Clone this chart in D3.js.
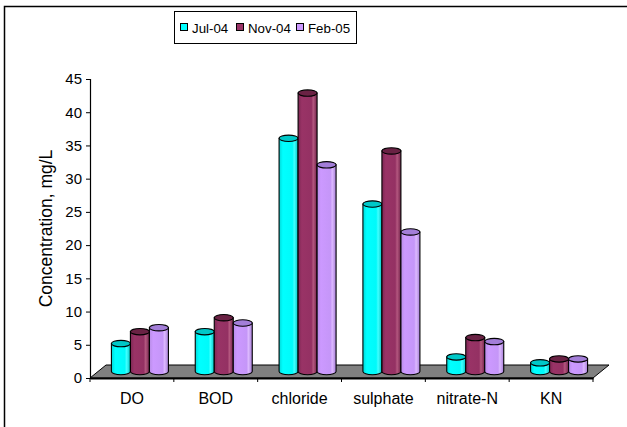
<!DOCTYPE html>
<html>
<head>
<meta charset="utf-8">
<script src="https://cdn.jsdelivr.net/npm/d3@7"></script>
<style>
  html, body { margin: 0; padding: 0; background: #fff; }
  svg { display: block; font-family: Arial, "Liberation Sans", sans-serif; }
</style>
</head>
<body>
<svg id="chart" width="627" height="427"></svg>
<script>
// Water quality parameters (mg/L) over three sampling campaigns
const categories = ["DO", "BOD", "chloride", "sulphate", "nitrate-N", "KN"];
const seriesNames = ["Jul-04", "Nov-04", "Feb-05"];
const jul04 = [4.2, 6.0, 35.1, 25.2, 2.2, 1.3];
const nov04 = [6.0, 8.1, 41.9, 33.2, 5.1, 1.9];
const feb05 = [6.6, 7.3, 31.1, 21.0, 4.5, 1.9];
const yTicks = [0, 5, 10, 15, 20, 25, 30, 35, 40, 45];

const seriesValues = [jul04, nov04, feb05];
const palette = [
  { id: "g0", stops: ["#00d8d8", "#00ffff", "#00fafa", "#40ffff", "#00c4c4"], top: "#00c8c8" },
  { id: "g1", stops: ["#7d2753", "#993366", "#943163", "#b4577f", "#72224a"], top: "#6a2244" },
  { id: "g2", stops: ["#b98de8", "#cc99ff", "#c596f8", "#dcb8ff", "#a67ed6"], top: "#a37ed8" }
];
const FONT = "Arial, 'Liberation Sans', sans-serif";

const svg = d3.select("#chart");

// gradients giving the cylinders their rounded look
const defs = svg.append("defs");
palette.forEach(p => {
  const g = defs.append("linearGradient").attr("id", p.id)
    .attr("x1", "0%").attr("x2", "100%").attr("y1", "0%").attr("y2", "0%");
  [0, 0.2, 0.7, 0.8, 1].forEach((o, i) =>
    g.append("stop").attr("offset", o).attr("stop-color", p.stops[i]));
});

// outer frame
svg.append("rect").attr("x", 4.5).attr("y", 6.5).attr("width", 660).attr("height", 460)
  .attr("fill", "none").attr("stroke", "#000").attr("stroke-width", 1.5);

const plotLeft = 90, plotRight = 593, baseY = 378, topY = 79;
const depthX = 16, depthY = -13;

const y = d3.scaleLinear().domain([0, 45]).range([baseY, topY]);
const x = d3.scaleBand().domain(categories).range([plotLeft, plotRight]);
const groupWidth = x.bandwidth() * 0.68;
const xs = d3.scaleBand().domain(seriesNames).range([0, groupWidth]);

// floor
const floorPts = [
  [plotLeft, baseY], [plotRight, baseY],
  [plotRight + depthX, baseY + depthY], [plotLeft + depthX, baseY + depthY]
];
svg.append("path").attr("d", d3.line()(floorPts) + "Z")
  .attr("fill", "#808080").attr("stroke", "#000").attr("stroke-width", 1);

// y axis
const yAxis = d3.axisLeft(y).tickValues(yTicks).tickSize(4).tickPadding(4);
const gy = svg.append("g").attr("transform", `translate(${plotLeft},0)`).call(yAxis);
gy.select(".domain").attr("stroke", "#000").attr("stroke-width", 1.2);
gy.selectAll("text").attr("font-size", 15).attr("fill", "#000").attr("font-family", FONT);

// x axis with ticks at category boundaries
const xAxis = d3.axisBottom(x).tickSize(0).tickPadding(15);
const gx = svg.append("g").attr("transform", `translate(0,${baseY})`).call(xAxis);
gx.select(".domain").attr("stroke", "#000").attr("stroke-width", 2);
gx.selectAll("text").attr("font-size", 16).attr("fill", "#000").attr("font-family", FONT);
gx.selectAll(".boundary").data(categories.concat([null])).enter().append("line")
  .attr("class", "boundary")
  .attr("x1", (d, i) => plotLeft + i * x.step()).attr("x2", (d, i) => plotLeft + i * x.step())
  .attr("y1", 0).attr("y2", 4).attr("stroke", "#000");

// cylinders, standing mid-depth on the floor
const midX = depthX / 2, midY = depthY / 2;
const ry = 3.2;
const barData = [];
categories.forEach((c, ci) => {
  seriesNames.forEach((s, si) => {
    barData.push({ cat: c, series: s, si, value: seriesValues[si][ci] });
  });
});

const bars = svg.append("g").selectAll("g.bar").data(barData).enter().append("g").attr("class", "bar");
bars.each(function (d) {
  const g = d3.select(this);
  const left = x(d.cat) + (x.bandwidth() - groupWidth) / 2 + xs(d.series) + midX;
  const w = xs.bandwidth();
  const rx = w / 2;
  const bottom = y(0) + midY;
  const top = y(d.value) + midY;
  const body = `M${left},${top} L${left},${bottom} A${rx},${ry} 0 0 0 ${left + w},${bottom} L${left + w},${top} Z`;
  g.append("path").attr("d", body)
    .attr("fill", `url(#${palette[d.si].id})`).attr("stroke", "#000").attr("stroke-width", 1.1);
  g.append("ellipse").attr("cx", left + rx).attr("cy", top).attr("rx", rx).attr("ry", ry)
    .attr("fill", palette[d.si].top).attr("stroke", "#000").attr("stroke-width", 1.1);
});

// y axis title
svg.append("text").attr("transform", "translate(52,228.5) rotate(-90)")
  .attr("text-anchor", "middle").attr("font-size", 17.5).attr("fill", "#000")
  .attr("font-family", FONT).text("Concentration, mg/L");

// legend
const legend = svg.append("g");
legend.append("rect").attr("x", 174.5).attr("y", 11.5).attr("width", 182).attr("height", 32)
  .attr("fill", "#fff").attr("stroke", "#000").attr("stroke-width", 1);
const legendX = [180, 236, 296];
seriesNames.forEach((s, i) => {
  legend.append("rect").attr("x", legendX[i] + 0.5).attr("y", 23.5).attr("width", 7).attr("height", 7)
    .attr("fill", palette[i].stops[1]).attr("stroke", "#000").attr("stroke-width", 1);
  legend.append("text").attr("x", legendX[i] + 12).attr("y", 32.5)
    .attr("font-size", 13.3).attr("fill", "#000").attr("font-family", FONT).text(s);
});
</script>
</body>
</html>
